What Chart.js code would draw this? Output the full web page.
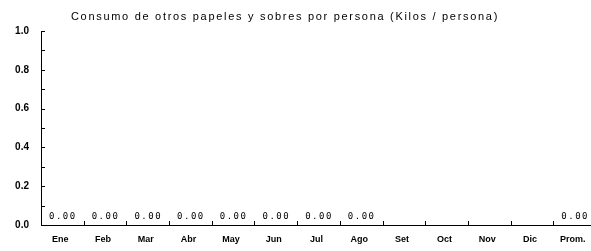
<!DOCTYPE html>
<html lang="es">
<head>
<meta charset="UTF-8">
<title>Consumo de otros papeles y sobres</title>
<script src="https://cdn.jsdelivr.net/npm/chart.js"></script>
<style>
  html, body { margin: 0; padding: 0; background: #fff; overflow: hidden; }
  #chartCanvas { display: block; }
</style>
</head>
<body>
<canvas id="chartCanvas" width="600" height="251"></canvas>
<script>
// chart data
const chartTitle = "Consumo de otros papeles y sobres por persona (Kilos / persona)";
const months = ["Ene", "Feb", "Mar", "Abr", "May", "Jun", "Jul", "Ago", "Set", "Oct", "Nov", "Dic", "Prom."];
const consumo = [0, 0, 0, 0, 0, 0, 0, 0, null, null, null, null, 0];
const yMin = 0;
const yMax = 1.0;
const yStep = 0.1;

// title drawn by hand so it can sit a little left of centre like the original
const titlePlugin = {
    id: "titleText",
    afterDraw(chart) {
        const ctx = chart.ctx;
        ctx.save();
        ctx.fillStyle = "#000";
        ctx.font = "11px 'Liberation Sans', Arial, sans-serif";
        ctx.letterSpacing = "1.7px";
        ctx.textAlign = "center";
        ctx.textBaseline = "middle";
        ctx.fillText(chartTitle, 285, 17);
        ctx.restore();
    }
};

// small tick marks that point into the plot, plus the 0.00 labels
const marksPlugin = {
    id: "marks",
    afterDraw(chart) {
        const ctx = chart.ctx;
        const x = chart.scales.x;
        const y = chart.scales.y;
        ctx.save();
        ctx.strokeStyle = "#000";
        ctx.lineWidth = 1;
        ctx.beginPath();
        for (let v = yMin; v <= yMax + 1e-9; v += yStep) {
            const py = Math.round(y.getPixelForValue(v)) + 0.5;
            ctx.moveTo(x.left, py);
            ctx.lineTo(x.left + 4, py);
        }
        for (let i = 1; i < months.length; i++) {
            const px = Math.round((x.getPixelForValue(i - 1) + x.getPixelForValue(i)) / 2) + 0.5;
            ctx.moveTo(px, y.bottom);
            ctx.lineTo(px, y.bottom - 4);
        }
        ctx.stroke();

        const meta = chart.getDatasetMeta(0);
        ctx.fillStyle = "#000";
        ctx.font = "9px 'DejaVu Sans Mono', monospace";
        ctx.letterSpacing = "1.5px";
        ctx.textAlign = "center";
        ctx.textBaseline = "bottom";
        meta.data.forEach((bar, i) => {
            if (consumo[i] === null) return;
            ctx.fillText(consumo[i].toFixed(2), bar.x + 0.5, bar.y - 4);
        });
        ctx.restore();
    }
};

const ctx = document.getElementById("chartCanvas").getContext("2d");
new Chart(ctx, {
    type: "bar",
    data: {
        labels: months,
        datasets: [{
            label: "Kilos / persona",
            data: consumo,
            backgroundColor: "#000",
            borderWidth: 0
        }]
    },
    options: {
        responsive: false,
        animation: false,
        layout: { padding: { top: 31, right: 4, left: 0, bottom: 0 } },
        plugins: {
            legend: { display: false },
            tooltip: { enabled: false }
        },
        scales: {
            x: {
                offset: true,
                grid: { drawOnChartArea: false, drawTicks: false, offset: true },
                border: { display: true, color: "#000", width: 1 },
                ticks: {
                    color: "#000",
                    padding: 9,
                    labelOffset: -2,
                    maxRotation: 0,
                    autoSkip: false,
                    font: { family: "'Liberation Sans', Arial, sans-serif", size: 9, weight: "bold" }
                },
                afterFit(scale) { scale.height = 26; }
            },
            y: {
                min: yMin,
                max: yMax,
                grid: { drawOnChartArea: false, drawTicks: false },
                border: { display: true, color: "#000", width: 1 },
                ticks: {
                    stepSize: yStep,
                    color: "#000",
                    padding: 12,
                    autoSkip: false,
                    font: { family: "'Liberation Sans', Arial, sans-serif", size: 10, weight: "bold" },
                    callback: function (value) {
                        const tenths = Math.round(value * 10);
                        return tenths % 2 === 0 ? (tenths / 10).toFixed(1) : "";
                    }
                },
                afterFit(scale) { scale.width = 41; }
            }
        }
    },
    plugins: [titlePlugin, marksPlugin]
});
</script>
</body>
</html>
